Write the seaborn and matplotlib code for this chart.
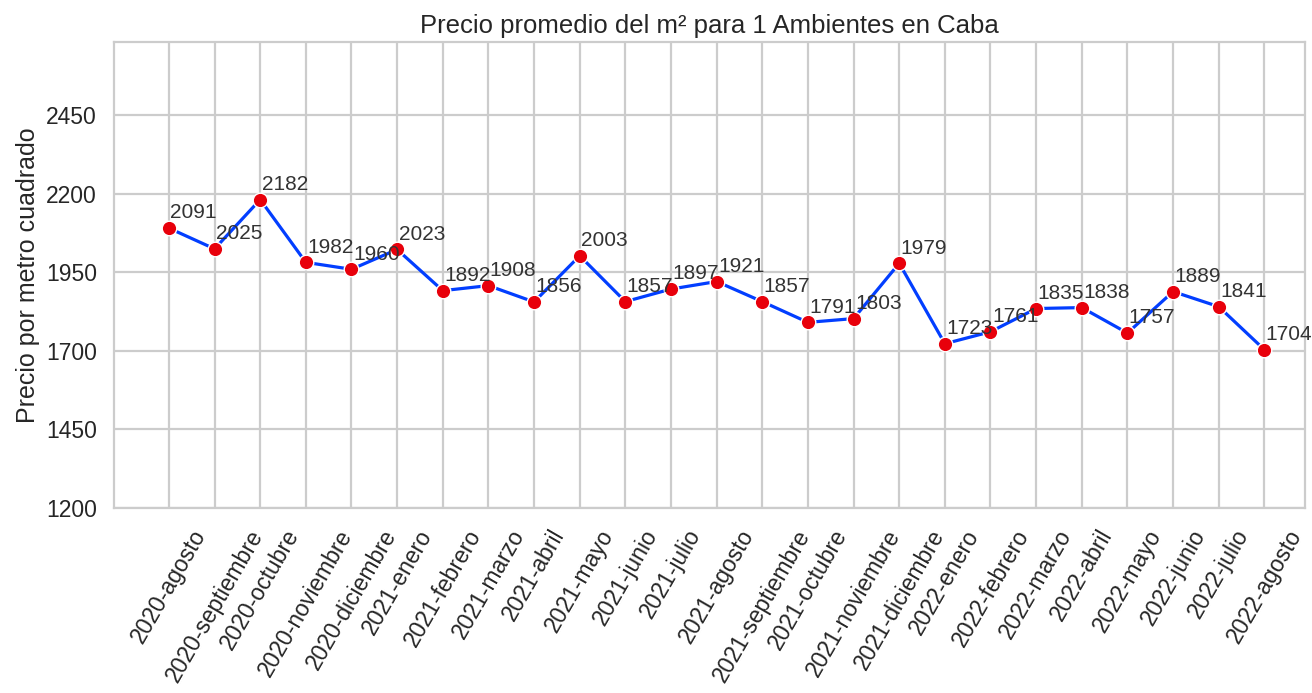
import matplotlib
matplotlib.use('Agg')
import matplotlib.pyplot as plt
import pandas as pd
import seaborn as sns

meses = ['2020-agosto', '2020-septiembre', '2020-octubre', '2020-noviembre', '2020-diciembre',
         '2021-enero', '2021-febrero', '2021-marzo', '2021-abril', '2021-mayo', '2021-junio',
         '2021-julio', '2021-agosto', '2021-septiembre', '2021-octubre', '2021-noviembre',
         '2021-diciembre', '2022-enero', '2022-febrero', '2022-marzo', '2022-abril',
         '2022-mayo', '2022-junio', '2022-julio', '2022-agosto']
precios = [2091, 2025, 2182, 1982, 1960, 2023, 1892, 1908, 1856, 2003, 1857, 1897, 1921,
           1857, 1791, 1803, 1979, 1723, 1761, 1835, 1838, 1757, 1889, 1841, 1704]

df = pd.DataFrame({'mes': meses, 'precio': precios})

sns.set_theme(style='whitegrid', context='talk', rc={'grid.linewidth': 1.6, 'axes.linewidth': 1.6})
plt.rcParams['font.family'] = ['Liberation Sans', 'DejaVu Sans']

pal = sns.color_palette('bright')
fig, ax = plt.subplots(figsize=(13.12, 6.93), dpi=100)
sns.lineplot(data=df, x='mes', y='precio', color=pal[0], linewidth=2.3, ax=ax)
sns.scatterplot(data=df, x='mes', y='precio', color=pal[3], s=110, edgecolor='white',
                linewidth=1, zorder=3, ax=ax)

for i, v in enumerate(precios):
    ax.annotate(str(v), (i, v), xytext=(1, 7), textcoords='offset points',
                fontsize=15, color='#333333')

ax.set_ylim(1200, 2685)
ax.set_yticks([1200, 1450, 1700, 1950, 2200, 2450])
ax.set_xlim(-1.2, 24.9)
ax.tick_params(axis='x', rotation=60)
ax.set_xlabel('')
ax.set_ylabel('Precio por metro cuadrado')
ax.set_title('Precio promedio del m² para 1 Ambientes en Caba', fontsize=18.5)

fig.subplots_adjust(left=0.087, right=0.995, top=0.94, bottom=0.267)
fig.savefig('out.png', dpi=100)
